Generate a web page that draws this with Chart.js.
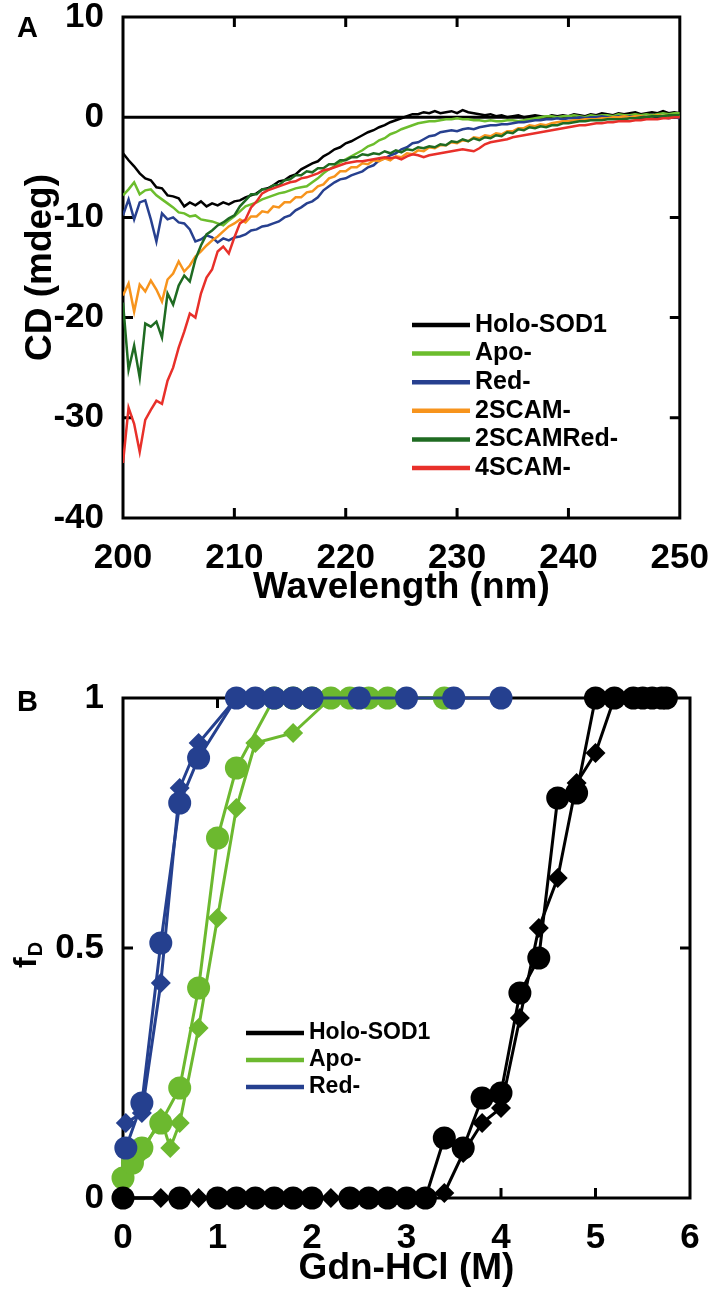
<!DOCTYPE html>
<html>
<head>
<meta charset="utf-8">
<script src="https://cdn.jsdelivr.net/npm/chart.js@4.4.1/dist/chart.umd.min.js"></script>
<style>
  html, body { margin: 0; padding: 0; background: #fff; overflow: hidden; }
  body { width: 720px; height: 1294px; position: relative; }
  canvas { position: absolute; left: 0; }
  #cd { top: -23px; }
  #gdn { top: 640px; }
</style>
</head>
<body>
<canvas id="cd" width="720" height="663"></canvas>
<canvas id="gdn" width="720" height="654"></canvas>
<script>
"use strict";

// Panel A - CD spectra (mdeg), one value per 0.5 nm
const wavelength = [
  200, 200.5, 201, 201.5, 202, 202.5, 203, 203.5, 204, 204.5,
  205, 205.5, 206, 206.5, 207, 207.5, 208, 208.5, 209, 209.5,
  210, 210.5, 211, 211.5, 212, 212.5, 213, 213.5, 214, 214.5,
  215, 215.5, 216, 216.5, 217, 217.5, 218, 218.5, 219, 219.5,
  220, 220.5, 221, 221.5, 222, 222.5, 223, 223.5, 224, 224.5,
  225, 225.5, 226, 226.5, 227, 227.5, 228, 228.5, 229, 229.5,
  230, 230.5, 231, 231.5, 232, 232.5, 233, 233.5, 234, 234.5,
  235, 235.5, 236, 236.5, 237, 237.5, 238, 238.5, 239, 239.5,
  240, 240.5, 241, 241.5, 242, 242.5, 243, 243.5, 244, 244.5,
  245, 245.5, 246, 246.5, 247, 247.5, 248, 248.5, 249, 249.5,
  250
];
const holo = [
  -3.6, -4.3, -4.9, -5.6, -6.1, -6.3, -7.0, -7.1, -7.8, -7.9,
  -8.1, -8.9, -8.5, -8.8, -8.4, -8.9, -8.6, -8.8, -8.5, -8.7,
  -8.4, -8.3, -8.0, -7.8, -7.6, -7.2, -7.1, -6.8, -6.4, -6.3,
  -5.9, -5.7, -5.2, -4.9, -4.6, -4.4, -3.9, -3.6, -3.2, -3.0,
  -2.6, -2.4, -2.1, -1.8, -1.5, -1.3, -1.0, -0.8, -0.5, -0.3,
  -0.1, 0.1, 0.3, 0.3, 0.5, 0.4, 0.6, 0.4, 0.5, 0.6,
  0.4, 0.7, 0.5, 0.4, 0.3, 0.2, 0.3, 0.1, 0.2, 0.0,
  0.1, 0.2, 0.0, 0.1, 0.2, 0.1, 0.0, 0.2, 0.1, 0.2,
  0.1, 0.3, 0.2, 0.1, 0.3, 0.2, 0.4, 0.3, 0.2, 0.4,
  0.3, 0.4, 0.5, 0.3, 0.4, 0.5, 0.4, 0.6, 0.4, 0.5,
  0.4
];
const apo = [
  -7.8, -7.2, -6.5, -7.7, -7.3, -7.2, -7.8, -8.2, -8.6, -9.0,
  -9.5, -9.6, -9.9, -9.8, -10.2, -10.3, -10.4, -10.6, -10.8, -10.3,
  -9.9, -9.4, -8.9, -8.7, -8.5, -8.2, -8.0, -7.8, -7.6, -7.5,
  -7.3, -7.1, -7.0, -6.9, -6.5, -6.1, -5.6, -5.2, -4.9, -4.5,
  -4.2, -3.9, -3.6, -3.3, -2.9, -2.7, -2.3, -2.1, -1.7, -1.5,
  -1.2, -1.0, -0.8, -0.6, -0.5, -0.4, -0.4, -0.3, -0.2, -0.2,
  -0.1, -0.2, -0.2, -0.3, -0.3, -0.4, -0.3, -0.4, -0.4, -0.3,
  -0.3, -0.4, -0.3, -0.2, -0.1, 0.0, 0.1, 0.1, 0.0, 0.1,
  0.1, 0.2, 0.1, 0.0, 0.2, 0.1, 0.2, 0.2, 0.1, 0.3,
  0.2, 0.2, 0.3, 0.2, 0.3, 0.2, 0.3, 0.4, 0.3, 0.4,
  0.4
];
const reduced = [
  -9.8, -8.2, -10.2, -8.5, -8.3, -10.2, -12.4, -9.6, -10.2, -10.0,
  -10.5, -10.6, -11.2, -12.4, -12.2, -11.8, -12.0, -12.5, -12.1, -12.3,
  -12.0, -11.9, -11.7, -11.3, -11.2, -10.9, -10.8, -10.6, -10.4, -10.0,
  -9.8, -9.3, -9.0, -8.6, -8.4, -8.0, -7.3, -6.9, -6.5, -6.2,
  -6.1, -5.8, -5.6, -5.4, -5.0, -4.8, -4.3, -4.1, -3.8, -3.6,
  -3.2, -3.0, -2.6, -2.5, -2.2, -1.9, -1.8, -1.5, -1.4, -1.3,
  -1.4, -1.2, -1.1, -1.2, -1.0, -0.9, -0.8, -0.8, -0.7, -0.7,
  -0.6, -0.5, -0.5, -0.4, -0.3, -0.3, -0.2, -0.2, -0.1, -0.2,
  -0.1, -0.1, 0.0, -0.1, 0.0, 0.0, 0.1, 0.0, 0.0, 0.1,
  0.0, 0.1, 0.0, 0.1, 0.0, 0.1, 0.1, 0.0, -0.1, 0.0,
  -0.1
];
const scam2 = [
  -17.8, -16.6, -19.4, -16.7, -17.4, -16.3, -17.2, -18.4, -16.2, -15.6,
  -14.4, -15.4, -14.8, -13.9, -13.4, -12.8, -12.3, -11.9, -11.4, -10.9,
  -10.6, -10.2, -10.5, -9.9, -9.9, -9.4, -9.5, -8.9, -9.0, -8.5,
  -8.5, -8.0, -8.0, -7.5, -7.4, -6.9, -6.7, -6.1, -5.9, -5.4,
  -5.4, -5.0, -5.0, -4.6, -4.7, -4.3, -4.4, -4.1, -4.3, -3.9,
  -4.0, -3.6, -3.7, -3.3, -3.4, -3.0, -3.1, -2.8, -2.8, -2.5,
  -2.6, -2.3, -2.4, -2.0, -2.1, -1.8, -1.9, -1.6, -1.7, -1.4,
  -1.4, -1.1, -1.1, -0.8, -0.9, -0.7, -0.8, -0.6, -0.5, -0.4,
  -0.4, -0.3, -0.3, -0.2, -0.2, -0.2, -0.1, -0.1, 0.0, 0.0,
  0.1, 0.0, 0.1, 0.1, 0.0, 0.1, 0.2, 0.1, 0.2, 0.2,
  0.1
];
const scam2Red = [
  -18.5, -25.2, -22.8, -26.0, -20.6, -20.9, -20.4, -22.0, -17.6, -18.7,
  -16.8, -15.8, -16.4, -14.2, -12.8, -11.7, -11.3, -10.8, -10.5, -10.1,
  -9.8, -8.9, -8.3, -7.7, -7.7, -7.2, -7.2, -6.8, -6.8, -6.3,
  -6.2, -5.8, -5.8, -5.4, -5.5, -5.1, -5.1, -4.7, -4.7, -4.3,
  -4.3, -4.0, -4.0, -3.7, -3.8, -3.6, -3.7, -3.4, -3.6, -3.3,
  -3.5, -3.2, -3.3, -3.0, -3.1, -2.9, -3.0, -2.7, -2.8, -2.4,
  -2.5, -2.2, -2.4, -2.1, -2.3, -2.0, -2.1, -1.8, -1.9, -1.5,
  -1.6, -1.2, -1.3, -1.0, -1.1, -0.9, -1.0, -0.8, -0.8, -0.6,
  -0.6, -0.5, -0.4, -0.4, -0.3, -0.3, -0.3, -0.2, -0.2, -0.2,
  -0.2, -0.1, -0.1, 0.0, 0.0, 0.1, 0.1, 0.1, 0.2, 0.2,
  0.2
];
const scam4 = [
  -34.5, -29.0, -30.6, -33.4, -30.2, -29.2, -28.3, -28.6, -26.3, -25.0,
  -23.0, -21.4, -19.6, -20.0, -17.6, -16.0, -15.2, -13.4, -12.9, -13.6,
  -12.0, -10.6, -10.2, -9.0, -8.4, -7.6, -7.3, -7.1, -6.9, -6.7,
  -6.5, -6.4, -6.1, -6.0, -5.8, -5.6, -5.3, -5.2, -5.0, -4.8,
  -4.6, -4.5, -4.4, -4.4, -4.3, -4.2, -4.1, -4.0, -4.1, -4.0,
  -4.2, -3.9, -3.7, -3.8, -4.0, -3.8, -3.7, -3.6, -3.5, -3.4,
  -3.3, -3.2, -3.3, -3.4, -3.1, -2.7, -2.5, -2.4, -2.3, -2.2,
  -2.0, -1.9, -1.8, -1.7, -1.6, -1.5, -1.4, -1.3, -1.2, -1.1,
  -1.0, -0.9, -0.8, -0.8, -0.7, -0.6, -0.6, -0.5, -0.5, -0.4,
  -0.4, -0.4, -0.3, -0.3, -0.2, -0.2, -0.2, -0.1, -0.1, 0.0,
  0.0
];
const cdNames = ["Holo-SOD1", "Apo-", "Red-", "2SCAM-", "2SCAMRed-", "4SCAM-"];
const cdColors = ["#000000", "#6cbd2d", "#27408f", "#f7941d", "#1f6b22", "#e8302a"];
const wlTicks = [200, 210, 220, 230, 240, 250];
const cdTicks = [-40, -30, -20, -10, 0, 10];

// Panel B - Gdn-HCl denaturation, fraction denatured
const holoCircleGdn = [0, 0.6, 1.0, 1.2, 1.4, 1.6, 1.8, 2.0, 2.4, 2.6, 2.8, 3.0, 3.2, 3.4, 3.6, 3.8, 4.0, 4.2, 4.4, 4.6, 4.8, 5.0, 5.2, 5.4, 5.5, 5.6, 5.7, 5.75];
const holoCircleFd  = [0, 0, 0, 0, 0, 0, 0, 0, 0, 0, 0, 0, 0, 0.12, 0.10, 0.20, 0.21, 0.41, 0.48, 0.80, 0.81, 1, 1, 1, 1, 1, 1, 1];
const holoDiamondGdn = [0, 0.4, 0.8, 1.2, 1.6, 2.0, 2.2, 2.6, 3.0, 3.4, 3.6, 3.8, 4.0, 4.2, 4.4, 4.6, 4.8, 5.0, 5.2];
const holoDiamondFd  = [0, 0, 0, 0, 0, 0, 0, 0, 0, 0.01, 0.09, 0.15, 0.18, 0.36, 0.54, 0.64, 0.83, 0.89, 1];
const apoCircleGdn = [0, 0.1, 0.2, 0.4, 0.6, 0.8, 1.0, 1.2, 1.6, 1.8, 2.0, 2.2, 2.4, 2.6, 2.8, 3.4];
const apoCircleFd  = [0.04, 0.07, 0.10, 0.15, 0.22, 0.42, 0.72, 0.86, 1, 1, 1, 1, 1, 1, 1, 1];
const apoDiamondGdn = [0, 0.2, 0.4, 0.5, 0.6, 0.8, 1.0, 1.2, 1.4, 1.8, 2.2];
const apoDiamondFd  = [0.03, 0.09, 0.16, 0.10, 0.15, 0.34, 0.56, 0.78, 0.91, 0.93, 1];
const redCircleGdn = [0.03, 0.2, 0.4, 0.6, 0.8, 1.2, 1.4, 1.6, 1.8, 2.0, 2.5, 3.0, 3.5, 4.0];
const redCircleFd  = [0.10, 0.19, 0.51, 0.79, 0.88, 1, 1, 1, 1, 1, 1, 1, 1, 1];
const redDiamondGdn = [0.03, 0.2, 0.4, 0.6, 0.8, 1.2];
const redDiamondFd  = [0.15, 0.17, 0.43, 0.82, 0.91, 1];
const fdNames = ["Holo-SOD1", "Apo-", "Red-"];
const fdColors = ["#000000", "#6cb92f", "#25408f"];
const gdnTicks = [0, 1, 2, 3, 4, 5, 6];
const fdTicks = [0, 0.5, 1];

const FONT = "'Liberation Sans', Arial, Helvetica, sans-serif";
const bold = (size) => ({ family: FONT, size, weight: "bold", lineHeight: 1.2 });
const fixTicks = (vals) => (scale) => { scale.ticks = vals.map(v => ({ value: v })); };
const pts = (xs, ys) => xs.map((v, i) => ({ x: v, y: ys[i] }));

// Box, inward ticks, zero line, legend, panel letter
const frame = {
  id: "frame",
  beforeDatasetsDraw(chart, args, o) {
    const { ctx, chartArea: a, scales: { x, y } } = chart;
    ctx.save();
    ctx.strokeStyle = "#000";
    ctx.lineWidth = 3;
    ctx.strokeRect(a.left, a.top, a.width, a.height);
    ctx.beginPath();
    o.xMarks.forEach(v => {
      const px = x.getPixelForValue(v);
      ctx.moveTo(px, a.bottom); ctx.lineTo(px, a.bottom - 10);
      ctx.moveTo(px, a.top); ctx.lineTo(px, a.top + 10);
    });
    o.yMarks.forEach(v => {
      const py = y.getPixelForValue(v);
      ctx.moveTo(a.left, py); ctx.lineTo(a.left + 10, py);
      ctx.moveTo(a.right, py); ctx.lineTo(a.right - 10, py);
    });
    if (o.zero) {
      const py = y.getPixelForValue(0);
      ctx.moveTo(a.left, py); ctx.lineTo(a.right, py);
    }
    ctx.stroke();
    ctx.restore();
  },
  afterDraw(chart, args, o) {
    const { ctx } = chart;
    const lg = o.legend;
    ctx.save();
    ctx.fillStyle = "#000";
    ctx.textBaseline = "middle";
    ctx.font = `bold ${lg.size}px ${FONT}`;
    lg.items.forEach((it, i) => {
      const ly = lg.y + i * lg.gap;
      ctx.strokeStyle = it.color;
      ctx.lineWidth = 4.5;
      ctx.beginPath();
      ctx.moveTo(lg.x, ly);
      ctx.lineTo(lg.x + lg.len, ly);
      ctx.stroke();
      ctx.fillText(it.text, lg.x + lg.len + 5, ly);
    });
    ctx.textBaseline = "alphabetic";
    ctx.font = `bold 29px ${FONT}`;
    ctx.fillText(o.letter, 17, o.letterY);
    if (o.sub) {
      // rotated axis title with subscript (f_D)
      const s = o.sub;
      ctx.translate(s.x, s.y);
      ctx.rotate(-Math.PI / 2);
      ctx.font = `bold ${s.size}px ${FONT}`;
      ctx.fillText(s.main, 0, 0);
      const w = ctx.measureText(s.main).width;
      ctx.font = `bold ${s.subSize}px ${FONT}`;
      ctx.fillText(s.text, w + 1, s.drop);
    }
    ctx.restore();
  }
};

const axis = (min, max, vals, fit, title) => ({
  type: "linear", min, max,
  afterBuildTicks: fixTicks(vals),
  afterFit: fit,
  grid: { display: false },
  border: { display: false },
  ticks: { font: bold(35), color: "#000", padding: 11, maxRotation: 0, autoSkip: false, callback: v => String(v) },
  title
});

// Panel A
const cdSeries = [holo, apo, reduced, scam2, scam2Red, scam4];
new Chart(document.getElementById("cd"), {
  type: "line",
  data: {
    datasets: cdSeries.map((s, i) => ({
      label: cdNames[i],
      data: pts(wavelength, s),
      borderColor: cdColors[i],
      borderWidth: 2.5,
      pointRadius: 0,
      tension: 0,
      order: cdSeries.length - i
    }))
  },
  options: {
    responsive: false,
    animation: false,
    devicePixelRatio: 1,
    layout: { padding: { top: 40, right: 30, left: 0, bottom: 0 } },
    scales: {
      x: axis(200, 250, wlTicks, s => { s.height = 122; },
        { display: true, text: "Wavelength (nm)", font: bold(37), color: "#000", padding: { top: 0, bottom: 30 } }),
      y: axis(-40, 10, cdTicks, s => { s.width = 123; },
        { display: true, text: "CD (mdeg)", font: bold(37), color: "#000", padding: { top: 19, bottom: 0 } })
    },
    plugins: {
      legend: { display: false },
      tooltip: { enabled: false },
      frame: {
        letter: "A", letterY: 60, zero: true,
        xMarks: [210, 220, 230, 240], yMarks: [-30, -20, -10],
        legend: { x: 412, y: 348, gap: 28.6, len: 58, size: 25,
          items: cdNames.map((t, i) => ({ text: t, color: cdColors[i] })) }
      }
    }
  },
  plugins: [frame]
});

// Panel B
const fdSets = [
  { gdn: redCircleGdn, fd: redCircleFd, c: 2, shape: "circle", r: 11.5 },
  { gdn: redDiamondGdn, fd: redDiamondFd, c: 2, shape: "rectRot", r: 10 },
  { gdn: holoCircleGdn, fd: holoCircleFd, c: 0, shape: "circle", r: 11.5 },
  { gdn: holoDiamondGdn, fd: holoDiamondFd, c: 0, shape: "rectRot", r: 10 },
  { gdn: apoCircleGdn, fd: apoCircleFd, c: 1, shape: "circle", r: 11.5 },
  { gdn: apoDiamondGdn, fd: apoDiamondFd, c: 1, shape: "rectRot", r: 10 }
];
new Chart(document.getElementById("gdn"), {
  type: "line",
  data: {
    datasets: fdSets.map((d, i) => ({
      label: fdNames[d.c],
      data: pts(d.gdn, d.fd),
      borderColor: fdColors[d.c],
      backgroundColor: fdColors[d.c],
      borderWidth: 3,
      pointStyle: d.shape,
      pointRadius: d.r,
      pointBorderWidth: 0,
      pointBackgroundColor: fdColors[d.c],
      tension: 0,
      clip: false,
      order: i
    }))
  },
  options: {
    responsive: false,
    animation: false,
    devicePixelRatio: 1,
    layout: { padding: { top: 58, right: 30, left: 0, bottom: 0 } },
    scales: {
      x: axis(0, 6, gdnTicks, s => { s.height = 96; },
        { display: true, text: "Gdn-HCl (M)", font: bold(37), color: "#000", padding: { top: 0, bottom: 3 } }),
      y: axis(0, 1, fdTicks, s => { s.width = 123; }, { display: false })
    },
    plugins: {
      legend: { display: false },
      tooltip: { enabled: false },
      frame: {
        letter: "B", letterY: 71, zero: false,
        xMarks: [1, 2, 3, 4, 5], yMarks: [0.5],
        legend: { x: 246, y: 393, gap: 27, len: 58, size: 23,
          items: fdNames.map((t, i) => ({ text: t, color: fdColors[i] })) },
        sub: { x: 36, y: 328, main: "f", text: "D", size: 32, subSize: 20, drop: 6 }
      }
    }
  },
  plugins: [frame]
});
</script>
</body>
</html>
